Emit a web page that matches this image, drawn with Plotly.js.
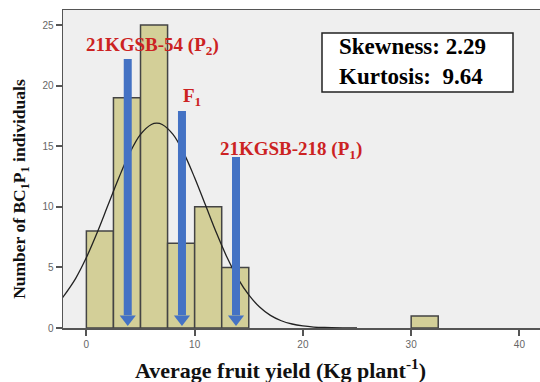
<!DOCTYPE html>
<html><head><meta charset="utf-8">
<script src="https://cdn.plot.ly/plotly-3.0.1.min.js"></script>
<style>html,body{margin:0;padding:0;background:#fff}#c{width:540px;height:382px}</style>
</head><body><div id="c"></div>
<script>
// Histogram bins (centre of each 2.5-wide bin) and counts
const binCenters = [1.25, 3.75, 6.25, 8.75, 11.25, 13.75, 31.25];
const binCounts  = [8, 19, 25, 7, 10, 5, 1];
const binWidth = 2.5;

// Fitted normal curve
const curveX = [-2.2, -1, 0, 1, 2, 3, 4, 5, 6, 6.5, 7, 8, 9, 10, 11, 12, 13, 14, 15, 16, 17, 18, 19, 20, 21, 22, 24, 25];
const curveY = [2.5, 4.08, 5.81, 7.87, 10.14, 12.4, 14.43, 15.97, 16.79, 16.9, 16.79, 15.97, 14.43, 12.4, 10.14, 7.87, 5.81, 4.08, 2.73, 1.73, 1.04, 0.6, 0.33, 0.17, 0.08, 0.04, 0.01, 0];

// Parent / F1 arrows
const arrowLabels = ['21KGSB-54 (P<sub>2</sub>)', 'F<sub>1</sub>', '21KGSB-218 (P<sub>1</sub>)'];
const arrowX   = [3.82, 8.83, 13.82];
const arrowTop = [22.2, 17.9, 14.1];
const arrowTip = 0.75;

// Stats
const statsText = ['Skewness: 2.29', 'Kurtosis:  9.64'];

const blue = '#4472c4';
const red = '#cc2222';
const serif = 'Liberation Serif';

const traces = [];
traces.push({
  type: 'bar', x: binCenters, y: binCounts, width: binWidth,
  marker: {color: '#d3cf98', line: {color: '#444', width: 1.5}},
  hoverinfo: 'skip'
});
traces.push({
  type: 'scatter', mode: 'lines', x: curveX, y: curveY,
  line: {color: '#222', width: 1.3, shape: 'spline'}, hoverinfo: 'skip'
});
for (let i = 0; i < arrowX.length; i++) {
  traces.push({
    type: 'scatter', mode: 'lines', x: [arrowX[i], arrowX[i]], y: [arrowTop[i], arrowTip + 0.3],
    line: {color: blue, width: 8}, hoverinfo: 'skip'
  });
}
traces.push({
  type: 'scatter', mode: 'markers', x: arrowX, y: arrowX.map(() => arrowTip),
  marker: {symbol: 'triangle-down', size: 14, color: blue, line: {width: 0}}, hoverinfo: 'skip'
});

const px = v => (v - 63) / 477;
const py = v => 1 - (v - 10) / 318.3;

const annotations = [];
const labelPos = [[152, 46], [192, 97], [291, 150]];
for (let i = 0; i < arrowLabels.length; i++) {
  annotations.push({
    xref: 'paper', yref: 'paper', showarrow: false,
    x: px(labelPos[i][0]), y: py(labelPos[i][1]),
    xanchor: 'center', yanchor: 'middle',
    text: '<b>' + arrowLabels[i] + '</b>',
    font: {family: serif, size: 19, color: red}
  });
}
annotations.push({
  xref: 'paper', yref: 'paper', showarrow: false,
  x: px(337), y: py(62), xanchor: 'left', yanchor: 'middle',
  align: 'left',
  text: '<b>' + statsText.join('<br>') + '</b>',
  font: {family: serif, size: 23, color: '#000'}
});
annotations.push({
  xref: 'paper', yref: 'paper', showarrow: false,
  x: px(21), y: py(189), xanchor: 'center', yanchor: 'middle', textangle: -90,
  text: '<b>Number of BC<sub>1</sub>P<sub>1</sub> individuals</b>',
  font: {family: serif, size: 17.5, color: '#111'}
});
annotations.push({
  xref: 'paper', yref: 'paper', showarrow: false,
  x: px(280), y: py(369), xanchor: 'center', yanchor: 'middle',
  text: '<b>Average fruit yield (Kg plant<sup>-1</sup>)</b>',
  font: {family: serif, size: 22, color: '#111'}
});

const layout = {
  width: 540, height: 382,
  margin: {l: 63, r: 0, t: 10, b: 54},
  paper_bgcolor: '#fff', plot_bgcolor: '#efefef',
  showlegend: false,
  bargap: 0,
  xaxis: {
    range: [-2.16, 41.9], tickvals: [0, 10, 20, 30, 40], ticks: 'outside', ticklen: 6, tickwidth: 2,
    tickcolor: '#555', showgrid: false, zeroline: false, showline: true, linecolor: '#555', linewidth: 1.5,
    mirror: true,
    tickfont: {family: 'Liberation Sans', size: 10, color: '#666'}
  },
  yaxis: {
    range: [0, 26.24], tickvals: [0, 5, 10, 15, 20, 25], ticks: 'outside', ticklen: 6, tickwidth: 2,
    tickcolor: '#555', showgrid: false, zeroline: false, showline: true, linecolor: '#555', linewidth: 1.5,
    tickfont: {family: 'Liberation Sans', size: 10, color: '#666'}
  },
  shapes: [{
    type: 'rect', xref: 'paper', yref: 'paper',
    x0: px(322), x1: px(513), y0: py(92), y1: py(33),
    line: {color: '#222', width: 1.5}, fillcolor: '#fff', layer: 'below'
  }],
  annotations: annotations
};

Plotly.newPlot('c', traces, layout, {displayModeBar: false, staticPlot: true});
</script></body></html>
